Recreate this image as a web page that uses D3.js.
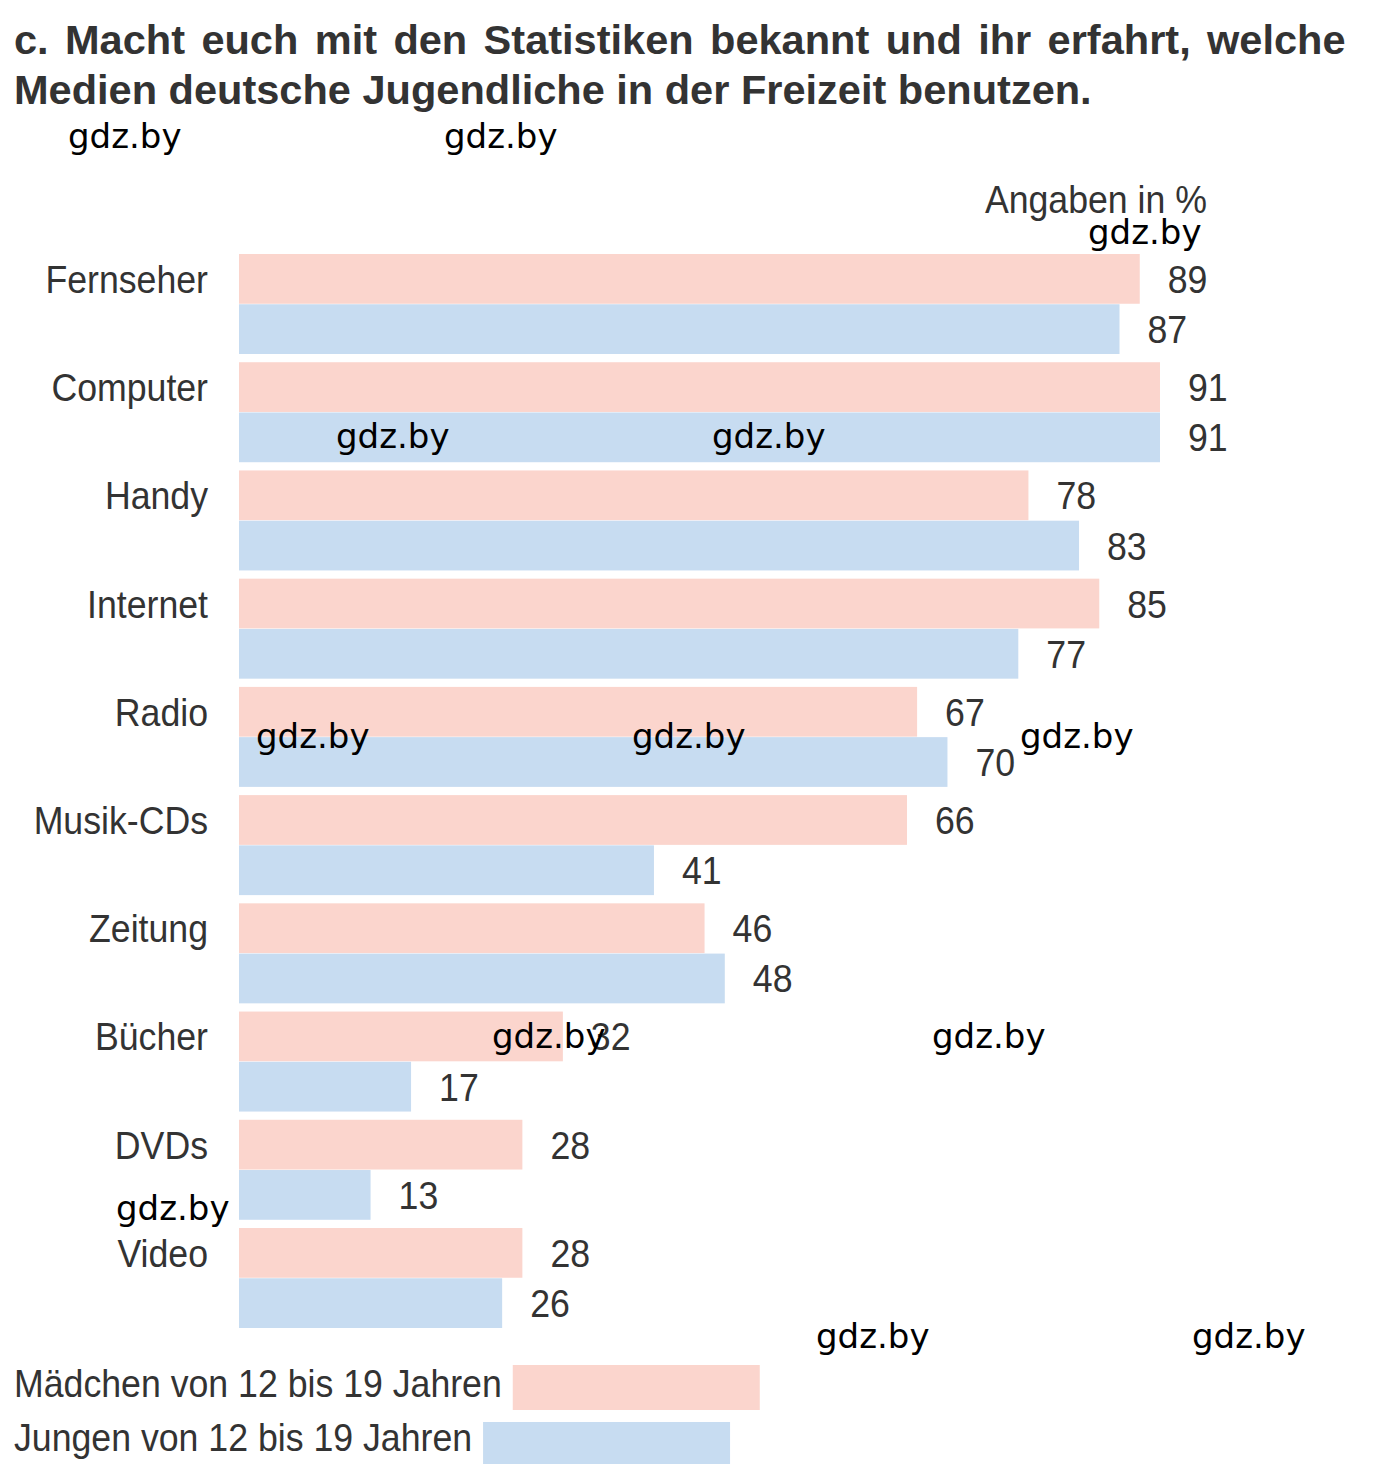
<!DOCTYPE html>
<html>
<head>
<meta charset="utf-8">
<script src="https://cdn.jsdelivr.net/npm/d3@7"></script>
<style>
  html, body { margin: 0; padding: 0; background: #fff; }
  svg { display: block; }
</style>
</head>
<body>
<script>
// ---- data ----
const categories = ["Fernseher", "Computer", "Handy", "Internet", "Radio", "Musik-CDs", "Zeitung", "Bücher", "DVDs", "Video"];
const maedchen = [89, 91, 78, 85, 67, 66, 46, 32, 28, 28];
const jungen = [87, 91, 83, 77, 70, 41, 48, 17, 13, 26];
const seriesKeys = ["m", "j"];
const seriesLabels = ["Mädchen von 12 bis 19 Jahren", "Jungen von 12 bis 19 Jahren"];
const titleLines = [
  "c. Macht euch mit den Statistiken bekannt und ihr erfahrt, welche",
  "Medien deutsche Jugendliche in der Freizeit benutzen."
];
const unitLabel = "Angaben in %";
const watermarkText = "gdz.by";

// ---- layout / style ----
const W = 1377, H = 1484;
const colors = { m: "#fbd5cd", j: "#c7dcf1" };
const textColor = "#333333";
const narrow = 0.915;
const font = "'Liberation Sans', Arial, sans-serif";
const watermarkSpots = [
  [68, 148], [444, 148], [1088, 244], [336, 448], [712, 448],
  [256, 748], [632, 748], [1020, 748], [492, 1048], [932, 1048],
  [116, 1220], [816, 1348], [1192, 1348]
];

const svg = d3.select("body").append("svg")
  .attr("width", W).attr("height", H)
  .attr("viewBox", `0 0 ${W} ${H}`);
svg.append("rect").attr("width", W).attr("height", H).attr("fill", "#fff");

const x = d3.scaleLinear().domain([0, 91]).range([239, 1160]);
const y = d3.scaleBand().domain(categories).range([254, 1328]).paddingInner(0.076).paddingOuter(0);
const sub = d3.scaleBand().domain(seriesKeys).range([0, y.bandwidth()]).paddingInner(0.01);

const rows = categories.map((c, i) => ({ cat: c, m: maedchen[i], j: jungen[i] }));

function ntext(parent, tx, ty, txt, anchor, size) {
  return parent.append("text")
    .attr("transform", `translate(${tx},${ty}) scale(${narrow},1)`)
    .attr("text-anchor", anchor || "start")
    .attr("font-family", font)
    .attr("font-size", size || 39)
    .attr("fill", textColor)
    .text(txt);
}

// ---- title ----
const tg = svg.append("g");
const t1 = tg.append("text").attr("font-family", font).attr("font-weight", "bold")
  .attr("font-size", 40).attr("fill", textColor).text(titleLines[0]);
const t2 = tg.append("text").attr("font-family", font).attr("font-weight", "bold")
  .attr("font-size", 40).attr("fill", textColor).text(titleLines[1]);
const n2 = t2.node().getComputedTextLength();
const f = 1078 / n2;
const n1 = t1.node().getComputedTextLength();
const spaces = titleLines[0].split(" ").length - 1;
const ws = (1332 / f - n1) / spaces;
t1.attr("word-spacing", ws).attr("transform", `translate(14,54) scale(${f},1)`);
t2.attr("transform", `translate(14,104) scale(${f},1)`);

// ---- unit label ----
ntext(svg, 1207, 213, unitLabel, "end", 39);

// ---- bars ----
const groups = svg.append("g").selectAll("g.row").data(rows).join("g")
  .attr("class", "row")
  .attr("transform", d => `translate(0,${y(d.cat)})`);

groups.selectAll("rect").data(d => seriesKeys.map(k => ({ k, v: d[k] }))).join("rect")
  .attr("x", x(0))
  .attr("y", d => sub(d.k))
  .attr("width", d => x(d.v) - x(0))
  .attr("height", sub.bandwidth())
  .attr("fill", d => colors[d.k]);

// category labels
groups.each(function (d) {
  ntext(d3.select(this), 208, sub("m") + sub.bandwidth() / 2 + 14, d.cat, "end", 39);
});

// value labels
groups.each(function (d) {
  const g = d3.select(this);
  seriesKeys.forEach(k => {
    ntext(g, x(d[k]) + 28, sub(k) + sub.bandwidth() / 2 + 14, String(d[k]), "start", 39);
  });
});

// ---- legend ----
const legend = svg.append("g");
const legendBase = [1397, 1451];
const legendRect = [[1365, 45], [1422, 42]];
seriesKeys.forEach((k, i) => {
  const t = ntext(legend, 14, legendBase[i], seriesLabels[i], "start", 39);
  const len = t.node().getComputedTextLength() * narrow;
  legend.append("rect")
    .attr("x", 14 + len + 11)
    .attr("y", legendRect[i][0])
    .attr("width", 247)
    .attr("height", legendRect[i][1])
    .attr("fill", colors[k]);
});

// ---- watermarks ----
const wm = svg.append("g");
watermarkSpots.forEach(([wx, wy]) => {
  wm.append("text")
    .attr("x", wx).attr("y", wy)
    .attr("font-family", "'DejaVu Sans', Verdana, sans-serif")
    .attr("font-size", 34)
    .attr("fill", "#000")
    .text(watermarkText);
});
</script>
</body>
</html>
